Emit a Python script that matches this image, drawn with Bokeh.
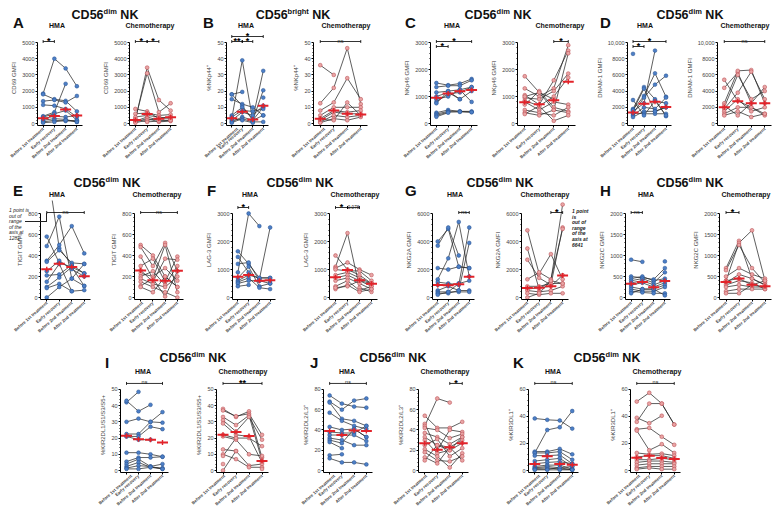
import numpy as np
from bokeh.plotting import figure
from bokeh.layouts import row, column
from bokeh.models import Div, Spacer, FactorRange, Range1d, FixedTicker
from bokeh.core.properties import value
from bokeh.embed import file_html
from bokeh.resources import INLINE

CATS = ["Before 1st treatment", "Early recovery", "Before 2nd treatment", "After 2nd treatment"]
N = None

# ---------------- data ----------------
A_TICKS = [0, 1000, 2000, 3000, 4000, 5000]
A_YLABEL = "CD69 GMFI"
A_HMA = [[1850, 4000, 3400, 2300], [1800, 1500, 1400, 750], [1380, 1450, 1300, 1700],
         [450, 700, 2450, N], [1150, 1100, 900, 400], [400, 600, 800, 200], [300, 450, 400, 500],
         [200, 300, 250, 100], [100, 200, 150, 200], [50, 100, 200, 100]]
A_HMA_MED = [330, 470, 870, 500]
A_CHE = [[200, 3450, 1450, 800], [300, 3100, 700, 1250], [900, 750, 300, 400], [600, 650, 500, 550],
         [400, 500, 400, 300], [150, 400, 200, 200], [100, 300, 100, 150], [50, 200, 300, 400],
         [250, 100, 150, 200]]
A_CHE_MED = [220, 590, 300, 385]
A_HMA_SIG = [(0, 1, "*", "mid")]
A_CHE_SIG = [(0, 1, "*", "mid"), (1, 2, "*", "mid")]

B_TICKS = [0, 10, 20, 30, 40, 50]
B_YLABEL = "%NKp44\u207a"
B_HMA = [[3, 39, 2, 10], [18, 19.5, N, 16], [15, 12, 10, 5], [18, 11, 2, 20.5], [5, 10, 3, 32.5],
         [4, 8, 7.5, 9], [2, 7, 5, 11], [1, 4, 2, 5], [0.5, 3, 1, 1], [3, 2, 0.5, N]]
B_HMA_MED = [3.3, 7.3, 2.5, 11]
B_CHE = [[36, 30, N, N], [12.5, 22, 46.5, 12], [8, 13, 28, 15], [5, 10, 10, 10], [3, 8, 7, 8],
         [2, 7, 6, 6], [1, 5, 4, 5], [0.5, 3, 2, 4], [2.5, 2, 13, 5]]
B_CHE_MED = [2.9, 8, 6, 5.5]
B_HMA_SIG = [(0, 1, "**", "mid"), (1, 2, "*", "mid"), (0, 3, "*", "hi")]
B_CHE_SIG = [(0, 3, "ns", "mid")]

C_TICKS = [0, 1000, 2000, 3000]
C_YLABEL = "NKp46 GMFI"
C_HMA = [[1500, 1420, 1480, 1650], [1350, 1400, 1400, 1600], [1150, 1200, 1250, 1350],
         [1000, 1150, 900, 1200], [900, 1000, 1250, 800], [800, 1100, 1150, 1350], [750, 1200, 900, N],
         [400, 500, 450, 450], [350, 450, 450, 420], [300, 420, 430, 420], [250, 400, N, N]]
C_HMA_MED = [950, 1110, 1190, 1240]
C_CHE = [[1750, 1150, 900, N], [1300, 1000, 1300, 2900], [1050, 700, 1600, 2700], [950, 900, 1200, 1850],
         [850, 650, 1000, 1700], [800, 500, 800, 700], [700, 1200, 600, 450], [500, 400, 300, 600],
         [400, 300, 500, 400], [350, 650, 100, 300], [1000, 1150, 500, 2600]]
C_CHE_MED = [790, 710, 860, 1550]
C_HMA_SIG = [(0, 1, "*", "lo"), (0, 3, "*", "mid")]
C_CHE_SIG = [(2, 3, "*", "mid")]

D_TICKS = [0, 2000, 4000, 6000, 8000, 10000]
D_TICK_LABELS = {10000: "10,000"}
D_YLABEL = "DNAM-1 GMFI"
D_HMA = [[8600, N, 2800, 2500], [1800, 4500, 3000, 900], [1700, 3400, 6200, 3300], [1500, 2500, 9000, N],
         [1200, 3200, 4800, 5900], [1000, 2000, 1800, 3200], [800, 1500, 1500, 2000],
         [1300, 1200, 1200, 1200], [2900, 1000, 2800, 1000], [1600, 4300, 1500, 2000]]
D_HMA_MED = [1350, 2450, 2700, 2050]
D_CHE = [[5400, 2800, 2000, 1200], [4400, 6300, 2500, 4500], [2500, 6500, 6600, 2500],
         [2000, 6000, 3000, 4000], [1800, 3800, 6400, 3000], [1500, 3000, 1500, 2000],
         [1200, 2000, 2000, 1000], [1000, 1500, 800, 1200], [2200, 1000, 2500, N]]
D_CHE_MED = [2000, 2750, 2500, 2500]
D_HMA_SIG = [(0, 1, "*", "lo"), (0, 3, "*", "mid")]
D_CHE_SIG = [(0, 3, "ns", "mid")]

E_TICKS = [0, 200, 400, 600, 800]
E_YLABEL = "TIGIT GMFI"
E_HMA = [[1282, 470, 310, N], [580, 330, 290, 230], [490, 770, 180, 110], [350, 500, 680, 420],
         [340, 450, 330, 320], [250, 350, 270, 200], [210, 220, 310, 230], [150, 320, 60, N],
         [100, 190, 290, 110], [90, 130, 60, 70], [0, 100, 180, 320]]
E_HMA_MED = [270, 322, 290, 202]
E_CHE = [[500, 400, 200, 100], [480, 300, 520, 250], [390, 180, 500, 50], [300, 370, 150, 390],
         [260, 150, 370, 360], [230, 200, 280, 160], [200, 250, 120, 300], [180, 130, 100, 200],
         [150, 100, 50, 0], [110, 180, 10, 250], [100, 50, 200, 100]]
E_CHE_MED = [258, 165, 160, 255]
E_HMA_SIG = [(0, 3, "ns", "mid")]
E_CHE_SIG = [(0, 3, "ns", "mid")]
E_NOTE = ["1 point is", "out of", "range", "of the", "axis at", "1282"]

F_TICKS = [0, 1000, 2000, 3000]
F_YLABEL = "LAG-3 GMFI"
F_HMA = [[900, 3000, 2550, N], [1650, 1200, 700, 700], [1450, 900, 650, 2500], [1200, 1250, 600, 600],
         [700, 1100, 400, 500], [600, 800, 700, 700], [550, 700, 350, 300], [500, 600, 600, 500],
         [400, 450, N, N]]
F_HMA_MED = [740, 800, 600, 620]
F_CHE = [[1500, 1000, 800, 500], [1100, 2300, 350, 200], [1050, 1250, 1000, 800], [1000, 950, 950, 600],
         [800, 900, 700, 500], [700, 800, 600, 400], [600, 700, 500, 300], [400, 600, 250, 400],
         [300, 450, 200, 300], [350, 400, 600, 500]]
F_CHE_MED = [720, 980, 620, 490]
F_HMA_SIG = [(0, 1, "*", "hi")]
F_CHE_SIG = [(0, 1, "*", "hi"), (1, 2, "0.078", "hi")]

G_TICKS = [0, 2000, 4000, 6000]
G_YLABEL = "NKG2A GMFI"
G_HMA = [[4000, 4900, 2200, 2100], [3700, 5000, 3000, N], [2100, 2000, 2200, 2100], [1300, 2800, 5400, 1500],
         [1100, 1000, 900, 5000], [900, 900, 1000, 1200], [500, 800, 500, 500], [400, 400, 400, 400],
         [300, 300, 500, 3900], [200, 400, 1000, N]]
G_HMA_MED = [890, 880, 950, 1490]
G_CHE = [[4800, 1700, 3100, 1300], [3500, 600, 1200, 6641], [2700, 1400, 900, 5000],
         [1300, 1800, 1300, 4900], [800, 800, 1000, 1000], [600, 700, 800, 1600], [500, 400, 500, 800],
         [300, 200, 300, 300], [0, 300, 1200, 1000]]
G_CHE_MED = [680, 700, 800, 1580]
G_HMA_SIG = [(2, 3, "ns", "mid")]
G_CHE_SIG = [(2, 3, "*", "mid")]
G_NOTE = ["1 point", "is", "out of", "range", "of the", "axis at", "6641"]

H_TICKS = [0, 500, 1000, 1500, 2000]
H_YLABEL = "NKG2C GMFI"
H_HMA = [[900, 850, N, 860], [500, 470, 430, 700], [450, 500, 400, 450], [400, 450, 350, 600],
         [350, 400, 300, 400], [300, 350, 250, 350], [250, 200, 200, 300], [200, 150, 150, 250],
         [150, 120, 100, 100], [100, 200, 200, 50]]
H_HMA_MED = [330, 367, 245, 390]
H_CHE = [[700, 1350, 450, 300], [400, 1300, 1600, 400], [650, 1250, 700, 350], [500, 700, 550, 450],
         [400, 450, 300, 250], [350, 550, 450, 300], [300, 400, 350, 200], [250, 300, 250, 250],
         [150, 200, 200, 200], [100, 100, 300, 400]]
H_CHE_MED = [370, 450, 305, 270]
H_HMA_SIG = [(0, 1, "ns", "mid")]
H_CHE_SIG = [(0, 1, "*", "mid")]

I_TICKS = [0, 10, 20, 30, 40, 50]
I_YLABEL = "%KIR2DL1/S1/S3/S5+"
I_HMA = [[42, 48.5, N, N], [43, 36.5, 40.5, N], [30, 32, 30, 29.5], [22.5, 22.5, 30, 36],
         [21, 21, 27, 25.5], [21, 19, 19, N], [11, 11, 10, 8.5], [5.5, 8, 8, 8.5], [4, 7, 2.5, 4],
         [2.5, 5, 2, 1.5], [1.5, 3, 2.5, 1], [1, 1, 2, 1]]
I_HMA_MED = [21.5, 19.2, 19, 17.2]
I_CHE = [[38, 33, 36.5, 8], [37, 33.5, 35, 22], [33, 28, 34, 6], [31, 24, 33, 19], [29, 22, 21, 5],
         [22, 20, 20, 15], [21, 19, 10, 9], [13, 12, 3, 4], [10, 7, 2, 2], [9, 20, N, 1],
         [4, N, N, N], [0, 12, N, N]]
I_CHE_MED = [22, 23.8, 21.2, 5.8]
I_HMA_SIG = [(0, 3, "ns", "hi")]
I_CHE_SIG = [(0, 3, "**", "hi")]

J_TICKS = [0, 20, 40, 60, 80]
J_YLABEL = "%KIR2DL2/L3\u207a"
J_HMA = [[74, 66, 63, 62], [68, 60, 69, 71], [67, 51, 49, 44], [57, 49, 44, 41], [43, 40, 41, 33],
         [38, 37, 37, 44], [35, 35, 35, 29], [32, 30, 25, 25], [30, 27, 41, 33], [28, 22, N, N],
         [15, 16, N, N], [12, 8, 8, 6]]
J_HMA_MED = [39, 35, 39.5, 39]
J_CHE = [[54, 42, 42, 48], [46, 20, 40, 38], [44, 71, 67, N], [42, 40, 32, 36], [37, 33, 26, 33],
         [33, 25, 23, 30], [30, 17, 20, 27], [25, 31, 14, 22], [21, 14, 3, 17], [18, 10, 9, 14],
         [13, 7, 23, 10], [10, 25, 20, 33]]
J_CHE_MED = [27, 20.5, 23, 27]
J_HMA_SIG = [(0, 3, "ns", "hi")]
J_CHE_SIG = [(2, 3, "*", "hi")]

K_TICKS = [0, 20, 40, 60]
K_YLABEL = "%KIR3DL1\u207a"
K_HMA = [[38.5, 37.5, 37, 31], [13, 30, 32, 44], [14, 14, 16, 12], [13, 13, 14, 8], [11, 11, 11.5, 5],
         [7, 8, 9, 3], [5, 6, 6.5, 5], [3, 4, 4, 1], [2, 3, 2, 3], [1.5, 2, 1, 1], [1, 1, 2, 0.5],
         [0.5, 0.5, 0.5, 0.5]]
K_HMA_MED = [4.8, 10.6, 4.8, 4.3]
K_CHE = [[51, 57.5, 49.5, 34], [39, 35, 40.5, N], [36, 49.5, 49.5, 34], [30.5, 31.5, 25, 19],
         [29.5, 15, 19.5, 13], [13, 12, 12.5, 11], [10, 11, 11, 9], [8, 8, 9, 8], [6, 7, 7, 6],
         [4, 5, 5, 5], [2, 3, 3, 3], [1, 2, 1, 1]]
K_CHE_MED = [9.5, 11, 9.2, 8.5]
K_HMA_SIG = [(0, 3, "ns", "hi")]
K_CHE_SIG = [(0, 3, "ns", "hi")]

# ---------------- style / layout ----------------
FONT = "Liberation Sans"
RED = "#e2232a"
BLUE = ("#4d7fc6", "#27508f")
PINK = ("#e9a4a4", "#b5454a")
LINE = "#2a2a2a"
TIER_PX = {"lo": -4, "mid": 1, "hi": 6}

ROWS = {
    1: dict(div=22, frame=95, ptop=12, pbot=2, bottom=51, hy=0, sy=13, ly=7),
    2: dict(div=24, frame=99, ptop=13, pbot=2, bottom=46, hy=0, sy=14, ly=7),
    3: dict(div=32, frame=96, ptop=12, pbot=2, bottom=38, hy=6, sy=22, ly=10),
}


def build_sub(vals, med, ticks, ylabel, sig, colors, fx0, fx1, fr0, fr1, rc, overrides=None):
    T = ticks[-1]
    span = rc["frame"] - rc["ptop"] - rc["pbot"]
    upx = T / span
    y0 = -rc["pbot"] * upx
    y1 = T + rc["ptop"] * upx
    p = figure(width=fx1 - fx0, height=rc["frame"] + rc["bottom"],
               x_range=FactorRange(factors=CATS), y_range=Range1d(y0, y1),
               output_backend="svg", toolbar_location=None,
               min_border_left=fr0 - fx0, min_border_right=fx1 - fr1,
               min_border_top=0, min_border_bottom=rc["bottom"],
               border_fill_alpha=0, background_fill_alpha=0)
    p.outline_line_color = None
    p.xgrid.visible = False
    p.ygrid.visible = False

    step = ticks[1] - ticks[0]
    minor = [t + k * step / 5 for t in ticks[:-1] for k in range(1, 5)]
    p.yaxis.ticker = FixedTicker(ticks=ticks, minor_ticks=minor)
    p.yaxis.bounds = (y0, T)
    if overrides:
        p.yaxis.major_label_overrides = overrides
    p.yaxis.axis_label = ylabel
    p.yaxis.axis_label_text_font = FONT
    p.yaxis.axis_label_text_font_size = "6px"
    p.yaxis.axis_label_text_font_style = "normal"
    p.yaxis.axis_label_standoff = 2
    p.yaxis.major_label_text_font = FONT
    p.yaxis.major_label_text_font_size = "5.5px"
    p.yaxis.major_label_standoff = 1
    p.yaxis.major_tick_out = 2
    p.yaxis.major_tick_in = 0
    p.yaxis.minor_tick_out = 1
    p.yaxis.minor_tick_in = 0
    for ax in (p.xaxis, p.yaxis):
        ax.axis_line_color = "black"
        ax.axis_line_width = 1
        ax.major_tick_line_color = "black"
    p.xaxis.major_label_orientation = 0.72
    p.xaxis.major_label_text_font = FONT
    p.xaxis.major_label_text_font_size = "4.4px"
    p.xaxis.major_label_text_font_style = "bold"
    p.xaxis.major_label_standoff = 1
    p.xaxis.major_tick_out = 2
    p.xaxis.major_tick_in = 0

    ys = [[np.nan if v is None else v for v in s] for s in vals]
    p.multi_line(xs=[CATS] * len(ys), ys=ys, line_color=LINE, line_width=0.75)
    px = [c for s in ys for c, v in zip(CATS, s) if not np.isnan(v)]
    py = [v for s in ys for v in s if not np.isnan(v)]
    p.scatter(x=px, y=py, size=3.8, fill_color=colors[0], line_color=colors[1], line_width=0.5)
    p.scatter(x=CATS, y=med, marker="dash", size=11, line_color=RED, line_width=2)
    p.scatter(x=CATS, y=med, marker="dash", angle=np.pi / 2, size=5, line_color=RED, line_width=1.4)

    for i, j, lab, tier in sig:
        lvl = T + TIER_PX[tier] * upx
        cap = 1.5 * upx
        a, b = i + 0.5, j + 0.5
        p.segment(x0=[a, a, b], y0=[lvl, lvl - cap, lvl - cap], x1=[b, a, b], y1=[lvl, lvl + cap, lvl + cap],
                  line_color="black", line_width=0.8)
        if "*" in lab:
            p.text(x=[(a + b) / 2], y=[lvl + 0.3 * upx], text=[lab], text_align="center",
                   text_baseline="alphabetic", text_font=value(FONT), text_font_size="9px",
                   text_font_style="bold", text_color="black")
        else:
            fs = "4.5px" if lab[0].isdigit() else "5.5px"
            p.text(x=[(a + b) / 2], y=[lvl + 1 * upx], text=[lab], text_align="center",
                   text_baseline="alphabetic", text_font=value(FONT), text_font_size=fs,
                   text_color="#222222")
    return p


def note_html(lines, left, top, style, bracket=None):
    fs = "font-style:italic;" + ("font-weight:bold;" if "bold" in style else "")
    h = ('<div style="position:absolute;left:%dpx;top:%dpx;font-size:5px;line-height:5.6px;color:#222;%s">%s</div>'
         % (left, top, fs, "<br>".join(lines)))
    if bracket:
        bl, bt, bw, bh = bracket
        h += ('<div style="position:absolute;left:%dpx;top:%dpx;width:%dpx;height:%dpx;'
              'border-right:1px solid #222;border-bottom:1px solid #222;"></div>' % (bl, bt, bw, bh))
    return h


def header(w, h, letter, lx, ly, hx, hy, sup, s1, s2, sy, extra=""):
    css = "position:absolute;white-space:nowrap;font-weight:bold;color:#111;"
    html = ('<div style="position:relative;width:%dpx;height:%dpx;font-family:\'Liberation Sans\',Arial,sans-serif;">' % (w, h)
            + '<div style="%sleft:%dpx;top:%dpx;font-size:15px;line-height:15px;">%s</div>' % (css, lx, ly, letter)
            + '<div style="%sleft:%dpx;top:%dpx;transform:translateX(-50%%);font-size:12.5px;line-height:14px;">CD56<sup style="font-size:7.5px;line-height:0;vertical-align:5px;">%s</sup> NK</div>' % (css, hx, hy, sup)
            + '<div style="%sleft:%dpx;top:%dpx;transform:translateX(-50%%);font-size:7px;line-height:9px;">HMA</div>' % (css, s1, sy)
            + '<div style="%sleft:%dpx;top:%dpx;transform:translateX(-50%%);font-size:7px;line-height:9px;">Chemotherapy</div>' % (css, s2, sy)
            + extra + '</div>')
    return Div(text=html, width=w, height=h, margin=0,
               styles={"overflow": "visible", "z-index": "5", "position": "relative"})


def panel(letter, rnum, geo, hma, hma_med, che, che_med, ticks, ylabel, hsig, csig, sup="dim",
          overrides=None, extra=""):
    rc = ROWS[rnum]
    st, sp, en, (h0, h1), (c0, c1), lx, hx, (s1, s2) = geo
    ph = build_sub(hma, hma_med, ticks, ylabel, hsig, BLUE, st, sp, h0, h1, rc, overrides)
    pc = build_sub(che, che_med, ticks, ylabel, csig, PINK, sp, en, c0, c1, rc, overrides)
    d = header(en - st, rc["div"], letter, lx - st, rc["ly"], hx - st, rc["hy"], sup, s1 - st, s2 - st,
               rc["sy"], extra)
    return column(d, row(ph, pc, spacing=0), spacing=0)


pA = panel("A", 1, (8, 100, 203, (32, 82), (126, 176), 13, 105, (57, 150)),
           A_HMA, A_HMA_MED, A_CHE, A_CHE_MED, A_TICKS, A_YLABEL, A_HMA_SIG, A_CHE_SIG)
pB = panel("B", 1, (203, 290, 398, (221, 268), (313, 367), 203, 293, (246, 346)),
           B_HMA, B_HMA_MED, B_CHE, B_CHE_MED, B_TICKS, B_YLABEL, B_HMA_SIG, B_CHE_SIG, sup="bright")
pC = panel("C", 1, (398, 488, 593, (430, 477), (515, 575), 405, 498, (452, 560)),
           C_HMA, C_HMA_MED, C_CHE, C_CHE_MED, C_TICKS, C_YLABEL, C_HMA_SIG, C_CHE_SIG)
pD = panel("D", 1, (593, 683, 773, (625, 671), (712, 771), 600, 690, (645, 745)),
           D_HMA, D_HMA_MED, D_CHE, D_CHE_MED, D_TICKS, D_YLABEL, D_HMA_SIG, D_CHE_SIG,
           overrides=D_TICK_LABELS)
pE = panel("E", 2, (8, 108, 203, (40, 90), (132, 183), 13, 107, (57, 157)),
           E_HMA, E_HMA_MED, E_CHE, E_CHE_MED, E_TICKS, E_YLABEL, E_HMA_SIG, E_CHE_SIG,
           extra=note_html(E_NOTE, 1, 32, "italic", bracket=(17, 37, 22, 9)))
pF = panel("F", 2, (203, 300, 398, (228, 275), (325, 377), 207, 300, (250, 355)),
           F_HMA, F_HMA_MED, F_CHE, F_CHE_MED, F_TICKS, F_YLABEL, F_HMA_SIG, F_CHE_SIG)
pG = panel("G", 2, (398, 492, 593, (432, 474), (517, 568), 405, 500, (455, 545)),
           G_HMA, G_HMA_MED, G_CHE, G_CHE_MED, G_TICKS, G_YLABEL, G_HMA_SIG, G_CHE_SIG,
           extra=note_html(G_NOTE, 174, 33, "bold italic"))
pH = panel("H", 2, (593, 690, 773, (625, 670), (718, 771), 600, 690, (646, 746)),
           H_HMA, H_HMA_MED, H_CHE, H_CHE_MED, H_TICKS, H_YLABEL, H_HMA_SIG, H_CHE_SIG)
pI = panel("I", 3, (97, 190, 300, (116, 168), (216, 268), 105, 193, (143, 243)),
           I_HMA, I_HMA_MED, I_CHE, I_CHE_MED, I_TICKS, I_YLABEL, I_HMA_SIG, I_CHE_SIG)
pJ = panel("J", 3, (300, 392, 505, (322, 372), (418, 468), 310, 393, (347, 445)),
           J_HMA, J_HMA_MED, J_CHE, J_CHE_MED, J_TICKS, J_YLABEL, J_HMA_SIG, J_CHE_SIG)
pK = panel("K", 3, (505, 605, 700, (528, 578), (630, 680), 513, 607, (553, 657)),
           K_HMA, K_HMA_MED, K_CHE, K_CHE_MED, K_TICKS, K_YLABEL, K_HMA_SIG, K_CHE_SIG)

r3h = ROWS[3]["div"] + ROWS[3]["frame"] + ROWS[3]["bottom"]
grid = column(row(pA, pB, pC, pD, spacing=0),
              row(pE, pF, pG, pH, spacing=0),
              row(Spacer(width=89, height=r3h, margin=0), pI, pJ, pK, spacing=0),
              spacing=0)
layout = column(Spacer(width=10, height=8, margin=0),
                row(Spacer(width=8, height=10, margin=0), grid, spacing=0),
                spacing=0)

open("out.html", "w").write(file_html(layout, INLINE, title="CD56 NK"))
